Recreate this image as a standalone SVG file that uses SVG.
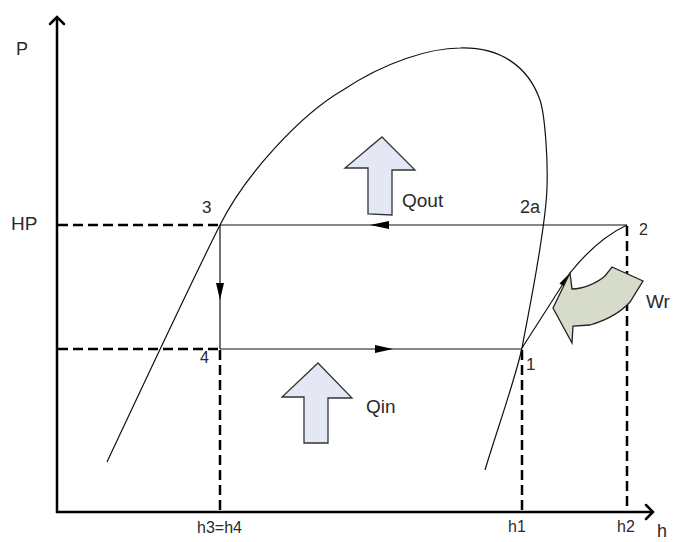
<svg xmlns="http://www.w3.org/2000/svg" width="676" height="542" viewBox="0 0 676 542">
<style>
.lbl{font-family:"Liberation Sans",Arial,sans-serif;fill:#2a2a2a}
.axis{stroke:#000;stroke-width:2.5;fill:none}
.chev{stroke:#000;stroke-width:2.5;fill:none;stroke-linecap:round;stroke-linejoin:miter}
.dash{stroke:#000;stroke-width:2.5;stroke-dasharray:10 5;fill:none}
.thin{stroke:#111;stroke-width:1.2;fill:none}
.blk{fill:#000}
.qarrow{fill:#e4e8f4;stroke:#333;stroke-width:1.3;stroke-linejoin:miter}
.warrow{fill:#d6dcc9;stroke:#222;stroke-width:1.3;stroke-linejoin:miter}
</style>
<rect width="676" height="542" fill="#fff"/>

<g id="axes">
  <line class="axis" x1="57" y1="18" x2="57" y2="513"/>
  <line class="axis" x1="56" y1="512" x2="652" y2="512"/>
  <polyline class="chev" points="50,24 57,17 64,24"/>
  <polyline class="chev" points="646,505 653,512 646,519"/>
  <text class="lbl" x="16" y="55" font-size="18">P</text>
  <text class="lbl" x="11" y="230" font-size="19">HP</text>
  <text class="lbl" x="657" y="537" font-size="18">h</text>
  <text class="lbl" x="197" y="533" font-size="16">h3=h4</text>
  <text class="lbl" x="508" y="532" font-size="16">h1</text>
  <text class="lbl" x="617" y="532" font-size="16">h2</text>
</g>

<g id="dome">
  <path class="thin" d="M107,462 C140,392 185,295 220,225 C245,175 300,115 343,90 C385,62 430,48 460,48 C500,47 528,66 540,100 C545,115 548,160 547,187 C546,230 527,320 522,348 C515,380 497,430 485,470"/>
</g>

<g id="guides">
  <line class="dash" x1="58" y1="225" x2="220" y2="225"/>
  <line class="dash" x1="58" y1="349" x2="220" y2="349"/>
  <line class="dash" x1="220" y1="350" x2="220" y2="511" stroke-width="1.8"/>
  <line class="dash" x1="522" y1="350" x2="522" y2="511" stroke-width="3.5"/>
  <line class="dash" x1="627" y1="226" x2="627" y2="511"/>
</g>

<g id="connectors">
  <line id="c-2-3" class="thin" x1="627" y1="225" x2="220" y2="225"/>
  <polygon class="blk" points="370,225 389,221 389,229"/>
  <line id="c-3-4" class="thin" x1="220" y1="225" x2="220" y2="349"/>
  <polygon class="blk" points="220,300 216,283 224,283"/>
  <line id="c-4-1" class="thin" x1="220" y1="349" x2="522" y2="349"/>
  <polygon class="blk" points="393,349 375,345 375,353"/>
  <path id="c-1-2" class="thin" d="M522,348 L570,273 Q597,239 627,225"/>
  <polygon class="blk" points="570,273 566.5,288 559.5,283.5"/>
</g>

<g id="node-3"><text class="lbl" x="202" y="213" font-size="17">3</text></g>
<g id="node-2"><text class="lbl" x="639" y="235" font-size="16">2</text></g>
<g id="node-2a"><text class="lbl" x="520" y="213" font-size="18">2a</text></g>
<g id="node-4"><text class="lbl" x="200" y="363" font-size="16">4</text></g>
<g id="node-1"><text class="lbl" x="526" y="370" font-size="17">1</text></g>

<g id="qout">
  <polygon class="qarrow" points="382,137 415,170 392,170 392,215 368,214 368,168 345,168"/>
  <text class="lbl" x="402" y="207" font-size="19">Qout</text>
</g>

<g id="qin">
  <polygon class="qarrow" points="318,363 352,398 328,398 328,443 304,443 304,397 282,397"/>
  <text class="lbl" x="366" y="413" font-size="19">Qin</text>
</g>

<g id="wr">
  <path class="warrow" d="M570,273 L572,289 C583,289 597,283 605,276 L612,267 L643,281 L630,302 C620,313 607,320 590,325 L573,326 L572,343 L553,308 Z"/>
  <text class="lbl" x="646" y="308" font-size="19">Wr</text>
</g>
</svg>
